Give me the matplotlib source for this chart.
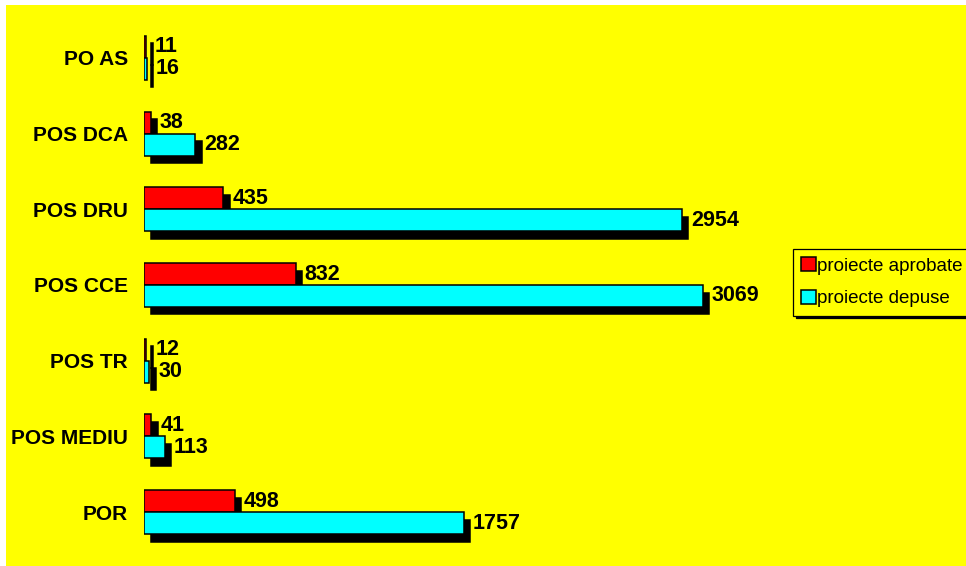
import matplotlib.pyplot as plt
import matplotlib.transforms as mtransforms
from matplotlib.patches import Patch, Rectangle
import numpy as np

plt.rcParams['font.family'] = ['Liberation Sans', 'DejaVu Sans']

programe = ['PO AS', 'POS DCA', 'POS DRU', 'POS CCE', 'POS TR', 'POS MEDIU', 'POR']
aprobate = [11, 38, 435, 832, 12, 41, 498]
depuse = [16, 282, 2954, 3069, 30, 113, 1757]

W, H = 966, 566
fig = plt.figure(figsize=(W / 100, H / 100), dpi=100, facecolor='white')
# yellow backdrop with a thin white margin on the left and top
fig.patches.append(Rectangle((6 / W, 0), 1, 1 - 5 / H, transform=fig.transFigure,
                             facecolor='#ffff00', edgecolor='none', zorder=-1))

ax = fig.add_axes([144 / W, 1 - 550 / H, 640 / W, 530 / H])
ax.set_facecolor('none')
ax.set_xlim(0, 640 / 0.1821)
ax.set_ylim(6.5, -0.5)
for s in ax.spines.values():
    s.set_visible(False)
ax.set_xticks([])

y = np.arange(len(programe))
h = 0.29

# drop shadow: same bars shifted right and down
shadow = ax.transData + mtransforms.ScaledTranslation(0.065, -0.075, fig.dpi_scale_trans)
for vals, off in [(aprobate, -h / 2), (depuse, h / 2)]:
    ax.barh(y + off, vals, height=h, color='black', edgecolor='black',
            linewidth=1.1, transform=shadow, zorder=1)

ax.barh(y - h / 2, aprobate, height=h, color='#ff0000', edgecolor='black', linewidth=1.1, zorder=2)
ax.barh(y + h / 2, depuse, height=h, color='#00ffff', edgecolor='black', linewidth=1.1, zorder=3)

for i in range(len(programe)):
    ax.annotate(str(aprobate[i]), (aprobate[i], y[i] - h / 2), xytext=(6.5, 0),
                textcoords='offset points', ha='left', va='center',
                fontsize=15.5, fontweight='bold', zorder=4)
    ax.annotate(str(depuse[i]), (depuse[i], y[i] + h / 2), xytext=(6.5, 0),
                textcoords='offset points', ha='left', va='center',
                fontsize=15.5, fontweight='bold', zorder=4)

ax.set_yticks(y)
ax.set_yticklabels(programe, fontsize=15, fontweight='bold')
ax.tick_params(axis='y', length=0, pad=11.5)

handles = [Patch(facecolor='#ff0000', edgecolor='black', linewidth=1.1),
           Patch(facecolor='#00ffff', edgecolor='black', linewidth=1.1)]
leg = fig.legend(handles, ['proiecte aprobate', 'proiecte depuse'],
                 loc='upper left', bbox_to_anchor=(793 / W, 1 - 249 / H),
                 borderaxespad=0, fontsize=13.5, fancybox=False, framealpha=1,
                 facecolor='#ffff00', edgecolor='black',
                 handlelength=0.75, handleheight=0.75, handletextpad=0.1,
                 labelspacing=0.8, borderpad=0.45,
                 shadow={'color': 'black', 'alpha': 1})
leg.get_frame().set_linewidth(0.9)

plt.savefig('out.png', dpi=100)
